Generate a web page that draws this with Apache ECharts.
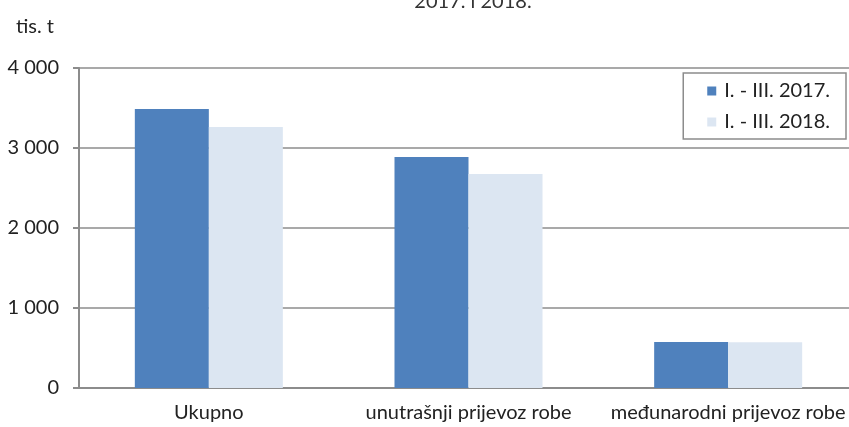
<!DOCTYPE html>
<html>
<head>
<meta charset="utf-8">
<script src="https://cdn.jsdelivr.net/npm/echarts@6/dist/echarts.min.js"></script>
<style>
html, body { margin: 0; padding: 0; background: #fff; overflow: hidden; }
#chart { width: 858px; height: 427px; }
</style>
</head>
<body>
<div id="chart"></div>
<script>
const categories = ['Ukupno', 'unutrašnji prijevoz robe', 'međunarodni prijevoz robe'];
const series2017 = [3487, 2887, 575];
const series2018 = [3262, 2675, 572];
const seriesNames = ['I. - III. 2017.', 'I. - III. 2018.'];
const yTicks = [0, 1000, 2000, 3000, 4000];

const FONT = 'Lato';
const FS = 20;
const chart = echarts.init(document.getElementById('chart'), null, { renderer: 'canvas' });

chart.setOption({
    backgroundColor: '#fff',
    animation: false,
    textStyle: { fontFamily: FONT },
    graphic: [
        {
            type: 'text', x: 473, y: 12,
            style: {
                text: '2017. i 2018.', font: FS + 'px ' + FONT, fill: '#333',
                textAlign: 'center', textVerticalAlign: 'bottom'
            }
        },
        {
            type: 'text', x: 16, y: 27,
            style: {
                text: 'tis. t', font: FS + 'px ' + FONT, fill: '#222',
                textVerticalAlign: 'middle'
            }
        }
    ],
    legend: {
        right: 12, top: 73,
        orient: 'vertical',
        backgroundColor: '#fff',
        borderColor: '#8c8c8c',
        borderWidth: 1.5,
        borderRadius: 0,
        padding: [8, 16, 7, 24],
        itemGap: 11,
        itemWidth: 9, itemHeight: 9,
        icon: 'rect',
        textStyle: { fontSize: FS, color: '#222', fontFamily: FONT, padding: [0, 0, 0, 3] },
        data: seriesNames
    },
    grid: {
        left: 79, right: 0, top: 68, bottom: 39,
        containLabel: false
    },
    xAxis: {
        type: 'category',
        data: categories,
        axisLine: { lineStyle: { color: '#8c8c8c', width: 2 } },
        axisTick: { show: false },
        axisLabel: {
            interval: 0, hideOverlap: false,
            fontSize: FS, color: '#222', margin: 15, fontFamily: FONT
        }
    },
    yAxis: {
        type: 'value',
        min: yTicks[0],
        max: yTicks[yTicks.length - 1],
        interval: 1000,
        axisLine: { show: true, lineStyle: { color: '#8c8c8c', width: 2 } },
        axisTick: { show: true, length: 6, lineStyle: { color: '#8c8c8c', width: 2 } },
        splitLine: { lineStyle: { color: '#8c8c8c', width: 1.5 } },
        axisLabel: {
            fontSize: FS, color: '#222', margin: 20, fontFamily: FONT,
            formatter: v => v >= 1000 ? Math.floor(v / 1000) + ' ' + String(v % 1000).padStart(3, '0') : String(v)
        }
    },
    series: [
        {
            name: seriesNames[0], type: 'bar', data: series2017,
            itemStyle: { color: '#4F81BD' },
            barGap: '0%', barCategoryGap: '43%'
        },
        {
            name: seriesNames[1], type: 'bar', data: series2018,
            itemStyle: { color: '#DCE6F2' },
            barGap: '0%', barCategoryGap: '43%'
        }
    ]
});
</script>
</body>
</html>
